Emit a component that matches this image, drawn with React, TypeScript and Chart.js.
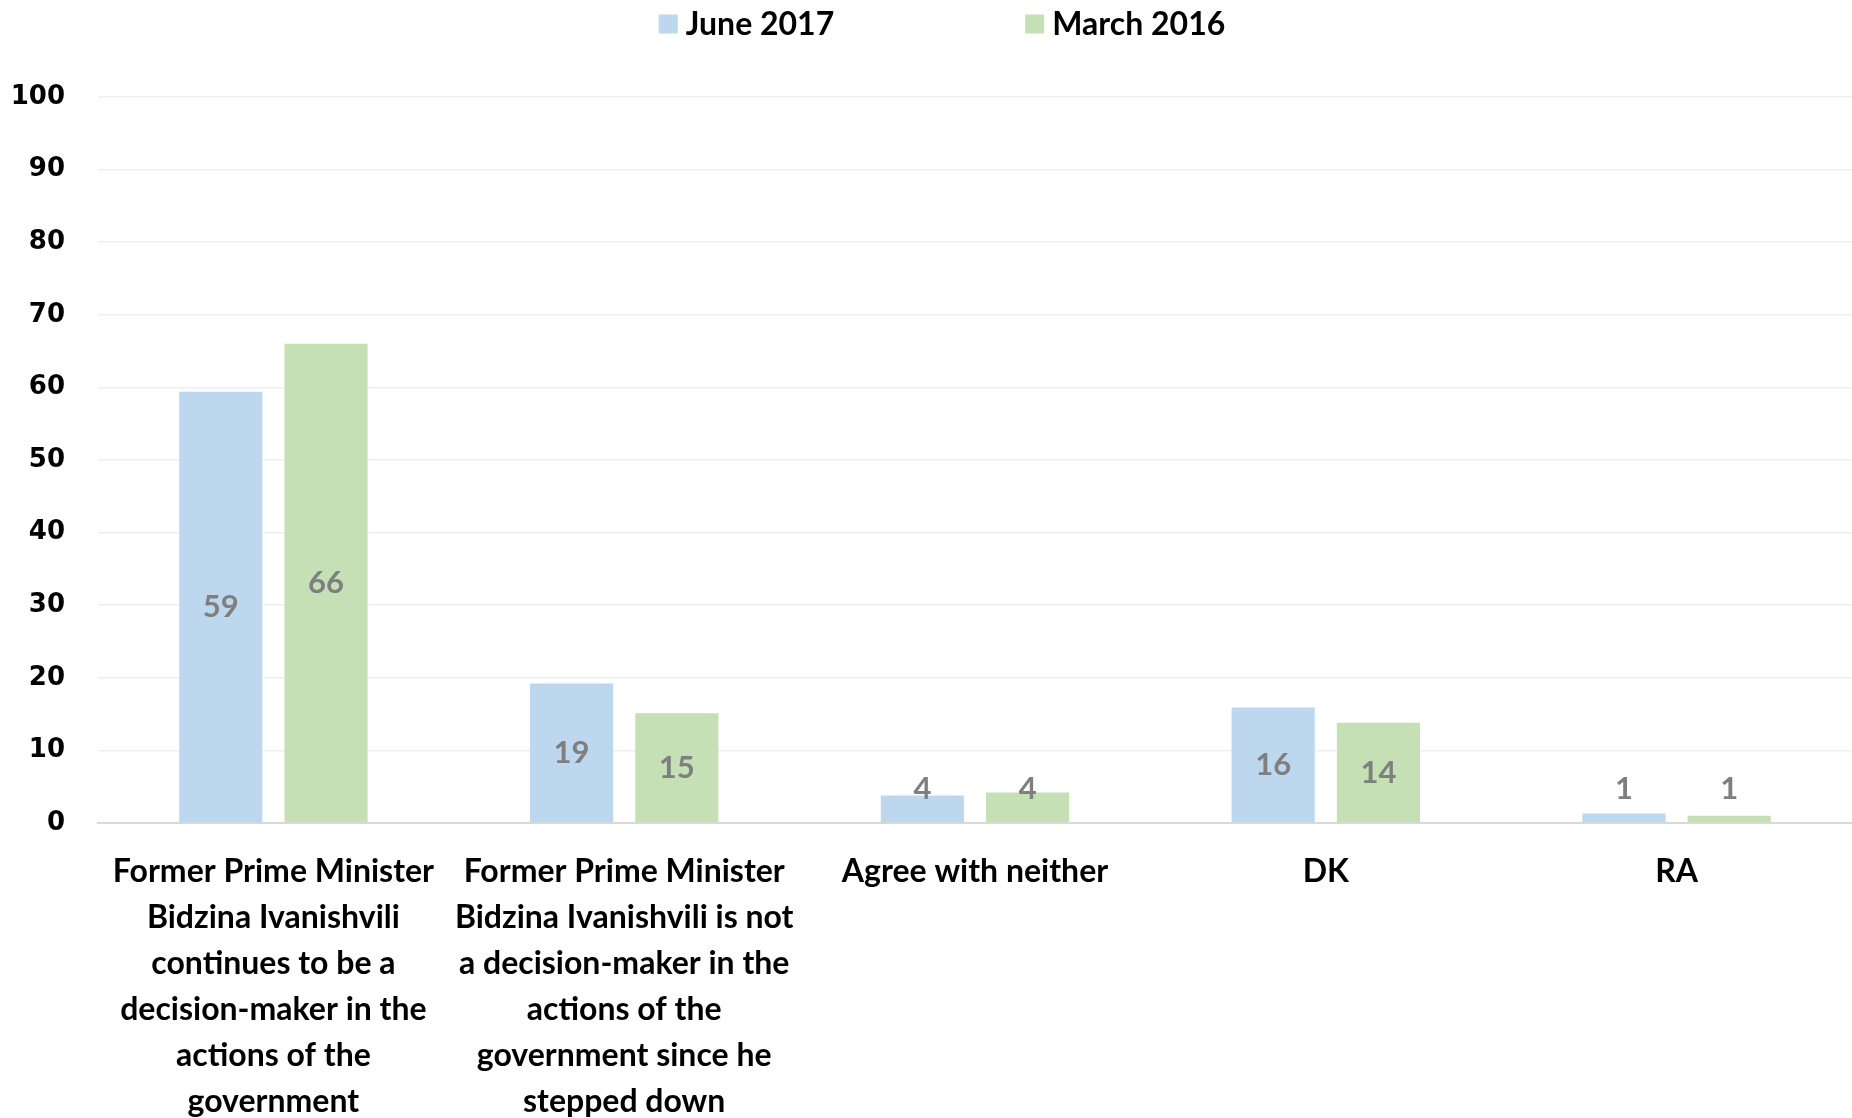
import React, { useEffect, useRef } from "react";
import { Chart, registerables } from "chart.js";

Chart.register(...registerables);

const categories: string[][] = [
  ["Former Prime Minister", "Bidzina Ivanishvili", "continues to be a", "decision-maker in the", "actions of the", "government"],
  ["Former Prime Minister", "Bidzina Ivanishvili is not", "a decision-maker in the", "actions of the", "government since he", "stepped down"],
  ["Agree with neither"],
  ["DK"],
  ["RA"],
];

const seriesNames = ["June 2017", "March 2016"];
const june2017 = [59.4, 19.2, 3.8, 15.9, 1.3];
const march2016 = [66.0, 15.1, 4.2, 13.8, 1.0];
const seriesColors = ["#BDD7EE", "#C5E0B4"];
const yTicks = [0, 10, 20, 30, 40, 50, 60, 70, 80, 90, 100];

const LABEL_FONT = "Lato, 'Open Sans', sans-serif";

const valueLabelPlugin = {
  id: "valueLabels",
  afterDatasetsDraw(chart: any) {
    const ctx = chart.ctx;
    ctx.save();
    ctx.font = `bold 31px ${LABEL_FONT}`;
    ctx.fillStyle = "#7F7F7F";
    ctx.textAlign = "center";
    ctx.textBaseline = "middle";
    chart.data.datasets.forEach((ds: any, di: number) => {
      const meta = chart.getDatasetMeta(di);
      meta.data.forEach((bar: any, i: number) => {
        const v = ds.data[i];
        const center = (bar.y + bar.base) / 2;
        const y = Math.min(center, bar.base - 33);
        ctx.fillText(String(Math.round(v)), bar.x, y);
      });
    });
    ctx.restore();
  },
};

const legendPlugin = {
  id: "customLegend",
  afterDraw(chart: any) {
    const ctx = chart.ctx;
    ctx.save();
    ctx.font = `bold 32px ${LABEL_FONT}`;
    ctx.textBaseline = "middle";
    ctx.textAlign = "left";
    const box = 19;
    const gapBoxText = 8;
    const gapItems = 191;
    const items = chart.data.datasets.map((ds: any) => ({
      label: ds.label,
      color: ds.backgroundColor,
      w: box + gapBoxText + ctx.measureText(ds.label).width,
    }));
    const total = items.reduce((s: number, it: any) => s + it.w, 0) + gapItems * (items.length - 1);
    let x = 942 - total / 2;
    const y = 24;
    items.forEach((it: any) => {
      ctx.fillStyle = it.color;
      ctx.fillRect(x, y - box / 2, box, box);
      ctx.fillStyle = "#000000";
      ctx.fillText(it.label, x + box + gapBoxText, y + 1);
      x += it.w + gapItems;
    });
    ctx.restore();
  },
};

export default function App() {
  const canvasRef = useRef<HTMLCanvasElement | null>(null);

  useEffect(() => {
    if (!canvasRef.current) return;
    const chart = new Chart(canvasRef.current, {
      type: "bar",
      data: {
        labels: categories,
        datasets: [
          { label: seriesNames[0], data: june2017, backgroundColor: seriesColors[0], borderWidth: 0 },
          { label: seriesNames[1], data: march2016, backgroundColor: seriesColors[1], borderWidth: 0 },
        ],
      },
      options: {
        animation: false,
        responsive: false,
        devicePixelRatio: 1,
        layout: { padding: { top: 97, right: 0, left: 0, bottom: 0 } },
        datasets: {
          bar: { categoryPercentage: 0.6, barPercentage: 0.79 },
        },
        plugins: {
          legend: { display: false },
          tooltip: { enabled: false },
          title: { display: false },
        },
        scales: {
          x: {
            grid: { display: false },
            border: { display: true, color: "#D9D9D9", width: 2 },
            ticks: {
              color: "#000000",
              font: { family: LABEL_FONT, size: 32, weight: "bold", lineHeight: "46px" },
              padding: 18,
              maxRotation: 0,
              minRotation: 0,
              autoSkip: false,
            },
            afterFit(scale: any) {
              scale.height = 295;
            },
          },
          y: {
            min: 0,
            max: 100,
            afterBuildTicks(scale: any) {
              scale.ticks = yTicks.map((v) => ({ value: v }));
            },
            grid: { color: "#EFEFEF", lineWidth: 1.5, drawTicks: false },
            border: { display: false },
            ticks: {
              color: "#000000",
              font: { family: "'DejaVu Sans', Verdana, sans-serif", size: 26, weight: "bold" },
              padding: 33,
            },
            afterFit(scale: any) {
              scale.width = 98;
            },
          },
        },
      },
      plugins: [valueLabelPlugin, legendPlugin],
    });
    return () => chart.destroy();
  }, []);

  return (
    <div style={{ position: "absolute", left: 0, top: 0, width: 1852, height: 1118, background: "#FFFFFF" }}>
      <canvas ref={canvasRef} width={1852} height={1118} style={{ display: "block" }} />
    </div>
  );
}
